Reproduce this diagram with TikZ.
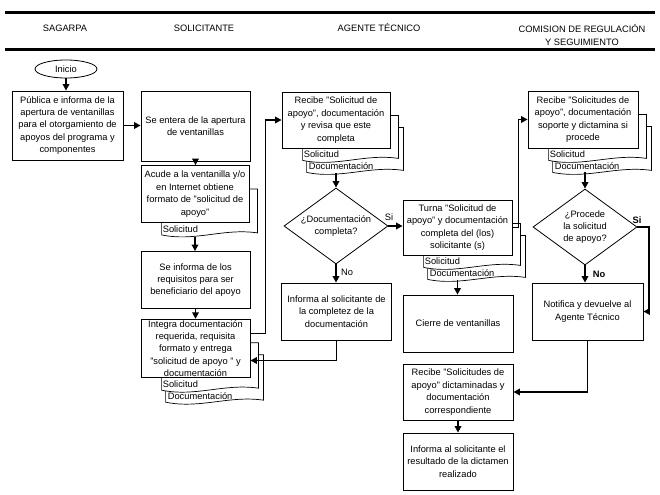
\documentclass[tikz,border=0pt]{standalone}
\usepackage{fontspec}
\setmainfont{Liberation Sans}
\usetikzlibrary{shapes.geometric,arrows.meta,calc,backgrounds}
\newcommand{\onedoc}[1]{%
 \path[docln] let \p1=(#1.north west), \p2=(#1.south east) in
   (\x1+21bp,\y1-24bp) -- (\x1+21bp,\y2-12bp)
   .. controls (\x1+55bp,\y2-19bp) and (\x2-26bp,\y2-5bp) .. (\x2+8bp,\y2-10bp)
   -- (\x2+8bp,\y1-24bp) -- cycle;}
\newcommand{\twodoc}[1]{%
 \path[docln] let \p1=(#1.north west), \p2=(#1.south east) in
   (\x1+25bp,\y1-36bp) -- (\x1+25bp,\y2-24bp)
   .. controls (\x1+59bp,\y2-31bp) and (\x2-21bp,\y2-17bp) .. (\x2+13bp,\y2-22bp)
   -- (\x2+13bp,\y1-36bp) -- cycle;
 \onedoc{#1}}
\newcommand{\sollbl}[1]{\node[lbl, anchor=west] (#1s) at ($(#1.south west)+(22,6)$) {Solicitud};}
\newcommand{\doclbl}[1]{\node[lbl, anchor=west] (#1d) at ($(#1.south west)+(27,18)$) {Documentación};}
\begin{document}
\begin{tikzpicture}[x=1bp,y=-1bp,
  every node/.style={font=\fontsize{9.3bp}{12.4bp}\selectfont},
  box/.style={draw, fill=white, line width=0.8bp, align=center, inner sep=1bp},
  dia/.style={draw, diamond, fill=white, line width=0.8bp, inner sep=0pt, minimum width=104bp, minimum height=76bp},
  conn/.style={line width=1.8bp, -{Triangle[length=6.5bp,width=6.5bp]}},
  docln/.style={draw, fill=white, line width=0.7bp},
  lbl/.style={inner sep=0pt},
  hdr/.style={line width=3bp},
]
\useasboundingbox (0,0) rectangle (660,495);
% header
\coordinate (hl1a) at (5,13); \coordinate (hl1b) at (655,13);
\coordinate (hl2a) at (5,50); \coordinate (hl2b) at (655,50);
\draw[hdr] (hl1a) -- (hl1b);
\draw[hdr] (hl2a) -- (hl2b);
\node (h1) at (65,28) {SAGARPA};
\node (h2) at (204,28) {SOLICITANTE};
\node (h3) at (379,28) {AGENTE TÉCNICO};
\node[align=center] (h4) at (582,35) {COMISION DE REGULACIÓN\\Y SEGUIMIENTO};

% nodes
\node[draw, ellipse, line width=0.8bp, minimum width=62bp, minimum height=18bp, inner sep=0pt] (ini) at (66,69) {Inicio};
\node[box, minimum width=111bp, minimum height=69bp] (b1) at (67.5,125.5)
  {Pública e informa de la\\apertura de ventanillas\\para el otorgamiento de\\apoyos del programa y\\componentes};
\node[box, minimum width=109bp, minimum height=70bp] (b2) at (195.5,126)
  {Se entera de la apertura\\de ventanillas};
\node[box, minimum width=108bp, minimum height=57bp] (b3) at (195,194)
  {Acude a la ventanilla y/o\\en Internet obtiene\\formato de "solicitud de\\apoyo"};
\node[box, minimum width=109bp, minimum height=57bp] (b4) at (195.5,280)
  {Se informa de los\\requisitos para ser\\beneficiario del apoyo};
\node[box, minimum width=109bp, minimum height=57bp] (b5) at (195.5,348.5)
  {Integra documentación\\requerida, requisita\\formato y entrega\\"solicitud de apoyo " y\\documentación};
\node[box, minimum width=108bp, minimum height=56bp] (b6) at (336,120)
  {Recibe "Solicitud de\\apoyo", documentación\\y revisa que este\\completa};
\node[dia] (d1) at (336,226) {};
\node[align=center, inner sep=0pt] (d1t) at (d1) {¿Documentación\\completa?};
\node[box, minimum width=110bp, minimum height=57bp] (b7) at (336.5,311.5)
  {Informa al solicitante de\\la completez de la\\documentación};
\node[box, minimum width=109bp, minimum height=55bp] (tu) at (457.5,227.5)
  {Turna "Solicitud de\\apoyo" y documentación\\completa del (los)\\solicitante (s)};
\node[box, minimum width=110bp, minimum height=57bp] (ci) at (458,323.5)
  {Cierre de ventanillas};
\node[box, minimum width=110bp, minimum height=56bp] (rd) at (458,392)
  {Recibe "Solicitudes de\\apoyo" dictaminadas y\\documentación\\correspondiente};
\node[box, minimum width=110bp, minimum height=57bp] (ir) at (458,461.5)
  {Informa al solicitante el\\resultado de la dictamen\\realizado};
\node[box, minimum width=110bp, minimum height=57bp] (b9) at (583,119.5)
  {Recibe "Solicitudes de\\apoyo", documentación\\soporte y dictamina si\\procede};
\node[dia] (d2) at (585,227) {};
\node[align=center, inner sep=0pt] (d2t) at (d2) {¿Procede\\la solicitud\\de apoyo?};
\node[box, minimum width=111bp, minimum height=57bp] (nt) at (587.5,311.5)
  {Notifica y devuelve al\\Agente Técnico};

% documents behind boxes
\begin{pgfonlayer}{background}
\onedoc{b3}
\twodoc{b5}
\twodoc{b6}
\twodoc{tu}
\twodoc{b9}
\end{pgfonlayer}
\sollbl{b3}
\sollbl{b5}\doclbl{b5}
\sollbl{b6}\doclbl{b6}
\sollbl{tu}\doclbl{tu}
\sollbl{b9}\doclbl{b9}

% connector labels
\node (si1) at (389,217) {Si};
\node (no1) at (347,272) {No};
\node[font=\fontsize{9.3bp}{12bp}\selectfont\bfseries] (si2) at (637,220) {Si};
\node[font=\fontsize{9.3bp}{12bp}\selectfont\bfseries] (no2) at (599,274) {No};

% connectors
\draw[conn] (ini.south) -- (ini.south |- b1.north);
\draw[conn] (b1.east) -- (b1.east -| b2.west);
\draw[conn] (b2.south) -- (b2.south |- b3.north);
\coordinate (b3x) at ($(b3.south)+(0,14)$);
\draw[conn] (b3x) -- (b3x |- b4.north);
\draw[conn] (b4.south) -- (b4.south |- b5.north);
\coordinate (b5o) at ($(b5.east)+(0,-15)$);
\draw[conn] (b5o) -- ++(15,0) |- (b6.west);
\coordinate (b6x) at ($(b6.south)+(0,25)$);
\draw[conn] (b6x) -- (d1.north);
\draw[conn] (d1.east) -- (d1.east -| tu.west);
\draw[conn] (d1.south) -- (d1.south |- b7.north);
\coordinate (b5i) at ($(b5.east)+(0,12)$);
\draw[conn] (b7.south) |- (b5i);
\draw[conn] (tu.east) -- ++(6,0) |- (b9.west);
\coordinate (tux) at ($(tu.south)+(0,25)$);
\draw[conn] (tux) -- (tux |- ci.north);
\coordinate (b9x) at ($(d2.north)+(0,-17)$);
\draw[conn] (b9x) -- (d2.north);
\coordinate (c2) at (649,0);
\draw[conn] (d2.east) -- (d2.east -| c2) |- (nt.east);
\draw[conn] (d2.south) -- (d2.south |- nt.north);
\draw[conn] (nt.south) |- (rd.east);
\draw[conn] (rd.south) -- (rd.south |- ir.north);
\end{tikzpicture}
\end{document}
